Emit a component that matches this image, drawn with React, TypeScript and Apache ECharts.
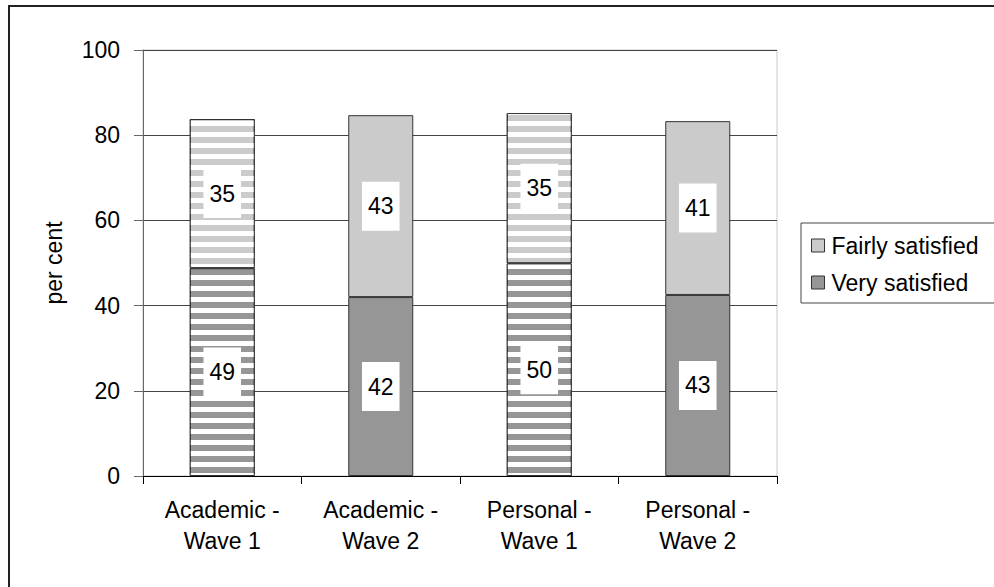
import React, { useEffect, useRef } from "react";
import * as echarts from "echarts";

const categories = ["Academic -\nWave 1", "Academic -\nWave 2", "Personal -\nWave 1", "Personal -\nWave 2"];
const verySatisfied = [48.8, 42.0, 49.9, 42.5];
const fairlySatisfied = [35.0, 42.7, 35.3, 40.8];
const stripedBars = [true, false, true, false];
const yTicks = { min: 0, max: 100, interval: 20 };

const FONT = "'Liberation Sans', Arial, sans-serif";
const FS = 23;
const VERY_COLOR = "#969696";
const FAIRLY_COLOR = "#cbcbcb";

const stripeDecal = {
  symbol: "rect",
  symbolSize: 1,
  color: "#ffffff",
  dashArrayX: [1, 0],
  dashArrayY: [5, 6],
  rotation: 0,
};

function buildData(values: number[]) {
  return values.map((v, i) =>
    stripedBars[i] ? { value: v, itemStyle: { decal: stripeDecal } } : { value: v }
  );
}

const labelStyle = {
  show: true,
  position: "inside",
  formatter: (p: any) => String(Math.round(p.value)),
  backgroundColor: "#ffffff",
  padding: [13, 6],
  color: "#000000",
  fontSize: FS,
  fontFamily: FONT,
};

export default function App() {
  const ref = useRef<HTMLDivElement>(null);
  useEffect(() => {
    if (!ref.current) return;
    const chart = echarts.init(ref.current, undefined, { renderer: "svg" });
    chart.setOption({
      animation: false,
      backgroundColor: "#ffffff",
      textStyle: { fontFamily: FONT },
      grid: {
        left: 143,
        right: 217,
        top: 50,
        bottom: 111,
        show: true,
        borderColor: "#c8c8c8",
        borderWidth: 1,
        backgroundColor: "transparent",
      },
      legend: {
        orient: "vertical",
        left: 806,
        top: 229,
        itemWidth: 13,
        itemHeight: 13,
        itemGap: 14,
        icon: "rect",
        data: ["Fairly satisfied", "Very satisfied"],
        textStyle: { fontSize: FS, color: "#000", fontFamily: FONT, padding: [0, 0, 0, 2] },
        itemStyle: { borderColor: "#333", borderWidth: 1, decal: "none" },
      },
      graphic: [
        {
          type: "rect",
          shape: { x: 801, y: 223, width: 250, height: 80 },
          style: { fill: "none", stroke: "#444", lineWidth: 1 },
          silent: true,
        },
        {
          type: "rect",
          shape: { x: 9, y: 6, width: 1100, height: 700 },
          style: { fill: "none", stroke: "#222", lineWidth: 2 },
          silent: true,
        },
      ],
      xAxis: {
        type: "category",
        data: categories,
        axisLine: { lineStyle: { color: "#000", width: 1 } },
        axisTick: { show: true, length: 8, lineStyle: { color: "#000" } },
        axisLabel: {
          fontSize: FS,
          color: "#000",
          fontFamily: FONT,
          lineHeight: 31,
          margin: 18,
        },
      },
      yAxis: {
        type: "value",
        min: yTicks.min,
        max: yTicks.max,
        interval: yTicks.interval,
        name: "per cent",
        nameLocation: "middle",
        nameGap: 78,
        nameTextStyle: { fontSize: FS, color: "#000", fontFamily: FONT },
        axisLine: { show: true, lineStyle: { color: "#666", width: 1 } },
        axisTick: { show: true, length: 9, lineStyle: { color: "#666" } },
        axisLabel: { fontSize: FS, color: "#000", fontFamily: FONT, margin: 23 },
        splitLine: { show: true, lineStyle: { color: "#444", width: 1 } },
      },
      series: [
        {
          name: "Very satisfied",
          type: "bar",
          stack: "total",
          barWidth: 65,
          data: buildData(verySatisfied),
          itemStyle: { color: VERY_COLOR, borderColor: "#333", borderWidth: 1 },
          label: labelStyle,
        },
        {
          name: "Fairly satisfied",
          type: "bar",
          stack: "total",
          barWidth: 65,
          data: buildData(fairlySatisfied),
          itemStyle: { color: FAIRLY_COLOR, borderColor: "#333", borderWidth: 1 },
          label: labelStyle,
        },
      ],
    });
    return () => chart.dispose();
  }, []);
  return (
    <div
      ref={ref}
      style={{ position: "fixed", left: 0, top: 0, width: 994, height: 587 }}
    />
  );
}
